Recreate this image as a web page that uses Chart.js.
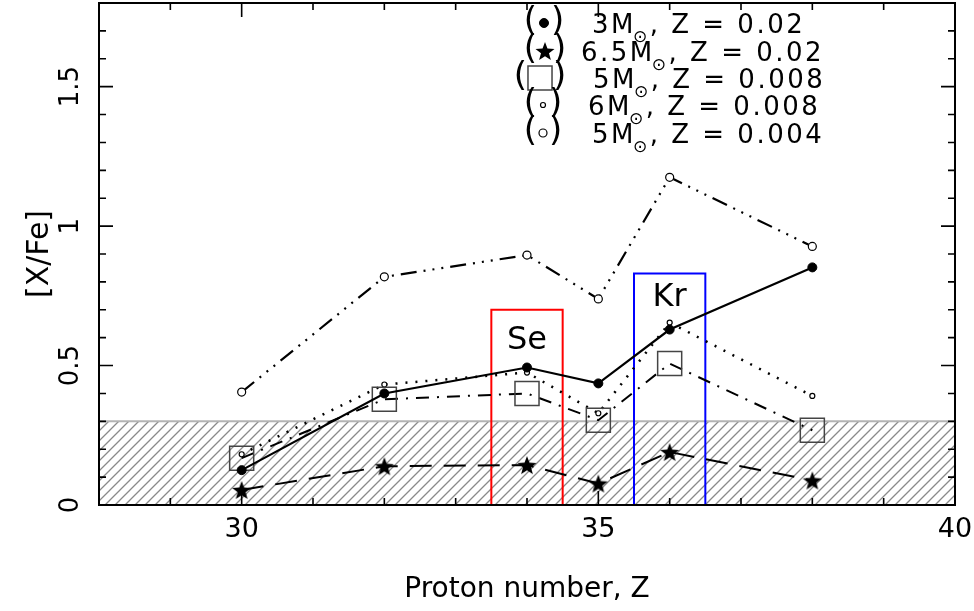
<!DOCTYPE html>
<html><head><meta charset="utf-8">
<script src="https://cdn.jsdelivr.net/npm/chart.js@4/dist/chart.umd.min.js"></script>
<style>html,body{margin:0;padding:0;background:#fff}#wrap{width:974px;height:611px;position:relative}</style>
</head><body><div id="wrap"><canvas id="c"></canvas></div>
<script>
// ---- data ----
const protonZ = [30, 32, 34, 35, 36, 38];
const m3z02  = [0.125, 0.400, 0.493, 0.436, 0.629, 0.852];
const m65z02 = [0.054, 0.139, 0.143, 0.077, 0.190, 0.088];
const m5z008 = [0.168, 0.379, 0.400, 0.304, 0.507, 0.268];
const m6z008 = [0.182, 0.432, 0.475, 0.329, 0.654, 0.391];
const m5z004 = [0.405, 0.818, 0.896, 0.739, 1.175, 0.927];
const legendMass = ['3M', '6.5M', '5M', '6M', '5M'];
const legendZ = ['0.02', '0.02', '0.008', '0.008', '0.004'];
const xTickValues = [30, 35, 40];
const xTickLabels = ['30', '35', '40'];
const yTickValues = [0, 0.5, 1, 1.5];
const yTickLabels = ['0', '0.5', '1', '1.5'];
const hatchTop = 0.3;
const seBoxZ = [33.5, 34.5], seBoxTop = 0.70;
const krBoxZ = [35.5, 36.5], krBoxTop = 0.83;
const boxLabels = ['Se', 'Kr'];
const boxLabelZ = [34, 36];
const boxLabelY = [0.59, 0.745];

const FONT = 'DejaVu Sans';

function pts(ys) { return protonZ.map((z, i) => ({x: z, y: ys[i]})); }
function boxPts(zr, top) { return [{x: zr[0], y: 0}, {x: zr[0], y: top}, {x: zr[1], y: top}, {x: zr[1], y: 0}, {x: zr[0], y: 0}]; }

function makeStar(size) {
  const c = document.createElement('canvas'); c.width = c.height = size;
  const g = c.getContext('2d'); const cx = size / 2, cy = size / 2 + 1, R = size / 2, r = R * 0.42;
  g.beginPath();
  for (let i = 0; i < 10; i++) { const a = -Math.PI / 2 + i * Math.PI / 5; const rr = i % 2 ? r : R; g.lineTo(cx + rr * Math.cos(a), cy + rr * Math.sin(a)); }
  g.closePath(); g.fillStyle = '#000'; g.fill(); return c;
}
function makeHatch() {
  const s = 10; const c = document.createElement('canvas'); c.width = c.height = s;
  const g = c.getContext('2d'); g.strokeStyle = '#8a8a8a'; g.lineWidth = 1.3; g.beginPath();
  g.moveTo(0, s); g.lineTo(s, 0); g.moveTo(-s / 2, s / 2); g.lineTo(s / 2, -s / 2); g.moveTo(s / 2, s * 1.5); g.lineTo(s * 1.5, s / 2);
  g.stroke(); return g.createPattern(c, 'repeat');
}
const starImg = makeStar(20);
const hatch = makeHatch();

const seriesStyles = [
  {pointStyle: 'circle', pointRadius: 4.5, pointBackgroundColor: '#000', pointBorderColor: '#000', pointBorderWidth: 1, borderDash: [], borderWidth: 2.2},
  {pointStyle: starImg, pointRadius: 10, pointBackgroundColor: '#000', pointBorderColor: '#000', pointBorderWidth: 0, borderDash: [22, 12], borderWidth: 2},
  {pointStyle: 'rect', pointRadius: 17, pointBackgroundColor: 'rgba(0,0,0,0)', pointBorderColor: '#444', pointBorderWidth: 1.5, borderDash: [13, 8, 2, 8], borderWidth: 2},
  {pointStyle: 'circle', pointRadius: 2.5, pointBackgroundColor: '#fff', pointBorderColor: '#000', pointBorderWidth: 1.2, borderDash: [2, 8], borderWidth: 2.5},
  {pointStyle: 'circle', pointRadius: 4, pointBackgroundColor: '#fff', pointBorderColor: '#000', pointBorderWidth: 1.2, borderDash: [16, 7, 2, 7, 2, 7, 2, 7], borderWidth: 2.2}
];
const seriesData = [m3z02, m65z02, m5z008, m6z008, m5z004];

const datasets = seriesData.map((d, i) => Object.assign({
  label: legendMass[i] + ', Z = ' + legendZ[i], data: pts(d), showLine: true, borderColor: '#000', fill: false, order: 1
}, seriesStyles[i]));
datasets.push({label: 'Se', data: boxPts(seBoxZ, seBoxTop), showLine: true, borderColor: '#ff0000', borderWidth: 2, pointRadius: 0, fill: false, order: 5, clip: 4});
datasets.push({label: 'Kr', data: boxPts(krBoxZ, krBoxTop), showLine: true, borderColor: '#0000ff', borderWidth: 2, pointRadius: 0, fill: false, order: 5, clip: 4});
datasets.push({label: 'hatch', data: [{x: 28, y: hatchTop}, {x: 40, y: hatchTop}], showLine: true, borderColor: '#b4b4b4', borderWidth: 2, pointRadius: 0, fill: 'origin', backgroundColor: hatch, order: 10});

function zeroPad(s) { s.paddingLeft = 0; s.paddingRight = 0; s.paddingTop = 0; s.paddingBottom = 0; }

const decor = {
  id: 'decor',
  afterDraw(chart) {
    const ctx = chart.ctx, a = chart.chartArea, xs = chart.scales.x, ys = chart.scales.y;
    ctx.save();
    // frame
    ctx.strokeStyle = '#000'; ctx.lineWidth = 2;
    ctx.strokeRect(a.left, a.top, a.right - a.left, a.bottom - a.top);
    // ticks
    ctx.lineWidth = 1.6; ctx.beginPath();
    for (let v = 28; v <= 40; v++) {
      const p = xs.getPixelForValue(v); const L = xTickValues.includes(v) ? 14 : 7;
      ctx.moveTo(p, a.bottom); ctx.lineTo(p, a.bottom - L);
      ctx.moveTo(p, a.top); ctx.lineTo(p, a.top + L);
    }
    for (let i = 0; i <= 18; i++) {
      const v = i / 10; const p = ys.getPixelForValue(v); const L = (i % 5 === 0) ? 14 : 7;
      ctx.moveTo(a.left, p); ctx.lineTo(a.left + L, p);
      ctx.moveTo(a.right, p); ctx.lineTo(a.right - L, p);
    }
    ctx.stroke();
    // y tick labels (rotated)
    ctx.fillStyle = '#000'; ctx.font = '26px ' + FONT; ctx.textAlign = 'center'; ctx.textBaseline = 'middle';
    yTickValues.forEach((v, i) => {
      const p = ys.getPixelForValue(v);
      ctx.save(); ctx.translate(71, p); ctx.rotate(-Math.PI / 2); ctx.fillText(yTickLabels[i], 0, 0); ctx.restore();
    });
    // Se / Kr labels
    ctx.font = '32px ' + FONT;
    boxLabels.forEach((t, i) => ctx.fillText(t, xs.getPixelForValue(boxLabelZ[i]), ys.getPixelForValue(boxLabelY[i])));
    // legend
    const rowY = [23, 51, 78, 105, 133];
    const textX = [592, 581, 593, 588, 592];
    const markX = [544, 545, 540, 543, 543];
    const gap = [9, 10, 15, 8, 8];
    for (let i = 0; i < 5; i++) {
      const st = seriesStyles[i];
      ctx.save();
      ctx.fillStyle = st.pointBackgroundColor; ctx.strokeStyle = st.pointBorderColor; ctx.lineWidth = st.pointBorderWidth;
      Chart.helpers.drawPoint(ctx, {pointStyle: st.pointStyle, radius: st.pointRadius, borderWidth: st.pointBorderWidth, rotation: 0}, markX[i], rowY[i]);
      ctx.restore();
      ctx.fillStyle = '#000';
      ctx.font = '34px ' + FONT; ctx.textBaseline = 'middle';
      ctx.textAlign = 'right'; ctx.fillText('(', markX[i] - gap[i] + 2, rowY[i] - 1);
      ctx.textAlign = 'left'; ctx.fillText(')', markX[i] + gap[i] - 2, rowY[i] - 1);
      ctx.textBaseline = 'alphabetic'; ctx.textAlign = 'left';
      ctx.letterSpacing = '2.5px';
      ctx.font = '26px ' + FONT;
      let x = textX[i]; const base = rowY[i] + 9.5;
      ctx.fillText(legendMass[i], x, base); x += ctx.measureText(legendMass[i]).width;
      ctx.font = '17px ' + FONT;
      ctx.fillText('\u2299', x - 3, base + 9); x += ctx.measureText('\u2299').width - 3;
      ctx.font = '26px ' + FONT;
      ctx.fillText(', Z = ' + legendZ[i], x, base);
      ctx.letterSpacing = '0px';
    }
    ctx.restore();
  }
};

new Chart(document.getElementById('c'), {
  type: 'scatter',
  data: {datasets},
  options: {
    responsive: true, maintainAspectRatio: false, animation: false,
    layout: {autoPadding: false, padding: {top: 3, right: 19, left: 0, bottom: 0}},
    plugins: {legend: {display: false}, tooltip: {enabled: false}},
    scales: {
      x: {
        type: 'linear', min: 28, max: 40,
        afterBuildTicks: s => { s.ticks = xTickValues.map(v => ({value: v})); },
        afterFit: s => { s.height = 106; zeroPad(s); },
        grid: {display: false, drawTicks: false}, border: {display: false},
        ticks: {font: {family: FONT, size: 27}, color: '#000', padding: 9, maxRotation: 0,
          callback: v => xTickLabels[xTickValues.indexOf(v)]},
        title: {display: true, text: 'Proton number, Z', color: '#000', font: {family: FONT, size: 28}, padding: {top: 0, bottom: 4}}
      },
      y: {
        type: 'linear', min: 0, max: 1.8,
        afterFit: s => { s.width = 99; zeroPad(s); },
        grid: {display: false, drawTicks: false}, border: {display: false},
        ticks: {display: false},
        title: {display: true, text: '[X/Fe]', color: '#000', font: {family: FONT, size: 30}, padding: {top: 22, bottom: 0}}
      }
    }
  },
  plugins: [decor]
});
</script></body></html>
